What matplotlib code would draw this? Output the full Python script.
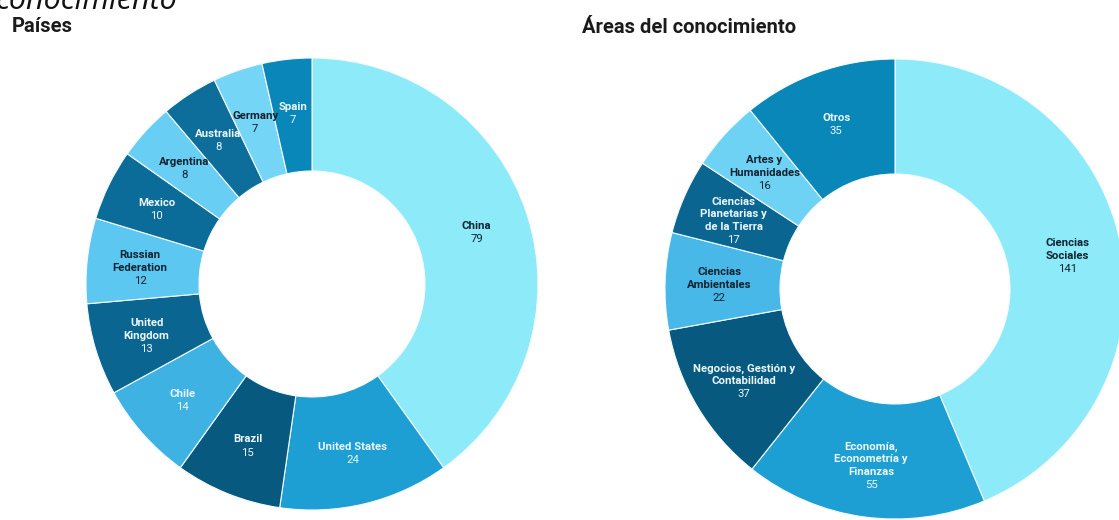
"""Dos gráficos de dona: publicaciones por país y por área del conocimiento"""
import numpy as np
from matplotlib import pyplot as plt

# Datos del gráfico de países
paises = ['China', 'United States', 'Brazil', 'Chile', 'United\nKingdom',
          'Russian\nFederation', 'Mexico', 'Argentina', 'Australia',
          'Germany', 'Spain']
valores_paises = [79, 24, 15, 14, 13, 12, 10, 8, 8, 7, 7]

# Datos del gráfico de áreas
areas = ['Ciencias\nSociales', 'Economía,\nEconometría y\nFinanzas',
         'Negocios, Gestión y\nContabilidad', 'Ciencias\nAmbientales',
         'Ciencias\nPlanetarias y\nde la Tierra', 'Artes y\nHumanidades',
         'Otros']
valores_areas = [141, 55, 37, 22, 17, 16, 35]

# Paleta de azules y color del texto de cada porción
colores_paises = ['#8deaf9', '#1d9fd4', '#08597f', '#3fb2e4', '#0a6591',
                  '#5cc7f1', '#0b6c99', '#68cef4', '#0d6e9c', '#74d5f6',
                  '#0a87b9']
texto_paises = ['#10222f', '#eaf7fc', '#eaf7fc', '#eaf7fc', '#eaf7fc',
                '#10222f', '#eaf7fc', '#10222f', '#eaf7fc', '#10222f',
                '#eaf7fc']
colores_areas = ['#8deaf9', '#1d9fd4', '#08597f', '#48b8e8', '#0a6591',
                 '#6ed2f5', '#0a87b9']
texto_areas = ['#10222f', '#eaf7fc', '#eaf7fc', '#10222f', '#eaf7fc',
               '#10222f', '#eaf7fc']

plt.rcParams['font.family'] = ['Roboto', 'DejaVu Sans']

W, H = 1119, 520
fig = plt.figure(figsize=(W / 100, H / 100), dpi=100)
ax = fig.add_axes([0, 0, 1, 1])


def dona(valores, nombres, colores, colores_texto, centro, radio):
    cuñas, _ = ax.pie(valores, colors=colores, center=centro, radius=radio,
                      startangle=90, counterclock=False,
                      wedgeprops=dict(width=radio * 0.5, edgecolor='#f4fbfe',
                                      linewidth=0.8))
    lh = 13.2  # alto de línea de las etiquetas, en px
    for w, nombre, valor, ct in zip(cuñas, nombres, valores, colores_texto):
        ang = np.deg2rad((w.theta1 + w.theta2) / 2)
        x = centro[0] + radio * 0.765 * np.cos(ang)
        y = centro[1] + radio * 0.765 * np.sin(ang)
        n = nombre.count('\n') + 1
        base = y - (n + 1) * lh / 2
        ax.text(x, base + lh, nombre, ha='center', va='bottom',
                fontsize=8.2, fontweight='bold', color=ct, linespacing=1.3)
        ax.text(x, base, str(valor), ha='center', va='bottom',
                fontsize=8.2, color=ct)


dona(valores_paises, paises, colores_paises, texto_paises, (312, H - 284), 226)
dona(valores_areas, areas, colores_areas, texto_areas, (895, H - 289), 230)

ax.set_xlim(0, W)
ax.set_ylim(0, H)
ax.set_aspect('equal')
ax.axis('off')

# Títulos
ax.text(12, H - 32, 'Países', fontsize=14.5, fontweight='bold',
        color='#1b1b1b', va='baseline')
ax.text(582, H - 33, 'Áreas del conocimiento', fontsize=14.5,
        fontweight='bold', color='#1b1b1b', va='baseline')
# Texto cortado en el borde superior
ax.text(-4, H - 9, 'conocimiento', fontsize=22, style='italic',
        family=['Open Sans', 'DejaVu Sans'], color='#111111', va='baseline')

fig.savefig('out.png', dpi=100)
